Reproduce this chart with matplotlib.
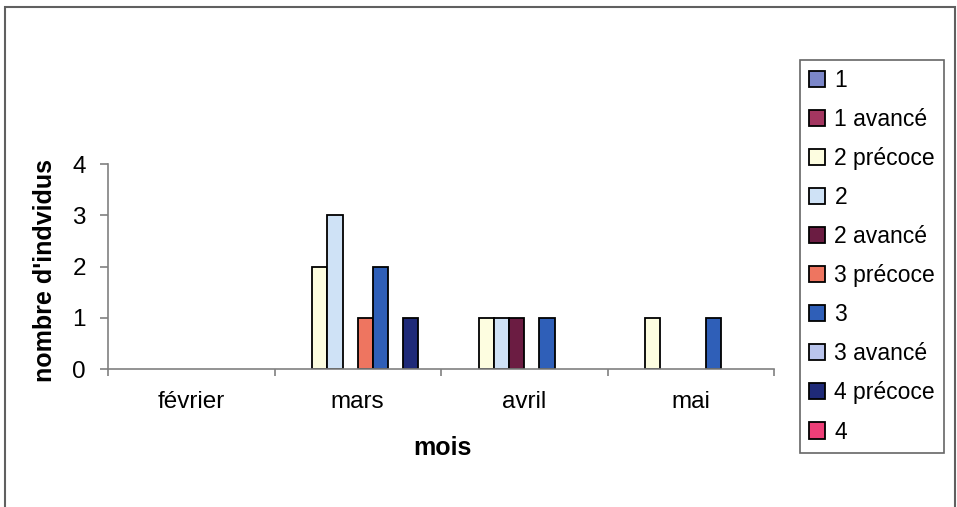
import numpy as np
import matplotlib.pyplot as plt
from matplotlib.patches import Rectangle

plt.rcParams['font.family'] = ['Liberation Sans', 'DejaVu Sans']

mois = ['février', 'mars', 'avril', 'mai']
stades = ['1', '1 avancé', '2 précoce', '2', '2 avancé', '3 précoce', '3', '3 avancé', '4 précoce', '4']
# one list per month, one value per stade
fevrier = [0, 0, 0, 0, 0, 0, 0, 0, 0, 0]
mars = [0, 0, 2, 3, 0, 1, 2, 0, 1, 0]
avril = [0, 0, 1, 1, 1, 0, 1, 0, 0, 0]
mai = [0, 0, 1, 0, 0, 0, 1, 0, 0, 0]
couleurs = ['#7b86c8', '#a33660', '#fdfde0', '#cfe2f6', '#6b1c42', '#ee7560', '#2f5fb8', '#b9c4ec', '#1f2a78', '#ee3f78']

data = np.array([fevrier, mars, avril, mai])

fig = plt.figure(figsize=(9.57, 5.07), dpi=100)
ax = fig.add_axes([108/957, 1-369/507, (774-108)/957, (369-164)/507])

n = len(stades)
w = 1/11   # gap = one bar width
x = np.arange(len(mois))
for i in range(n):
    h = data[:, i]
    lw = [1.3 if v > 0 else 0 for v in h]
    ax.bar(x - 0.5 + w/2 + i*w, h, width=w, color=couleurs[i],
           edgecolor='black', linewidth=lw, label=stades[i], align='edge')

ax.set_xlim(-0.5, len(mois)-0.5)
ax.set_ylim(0, 4)
ax.set_yticks([0, 1, 2, 3, 4])
ax.set_xticks(x)
ax.set_xticklabels(mois)
ax.set_xticks(np.arange(len(mois)+1) - 0.5, minor=True)
ax.tick_params(axis='x', which='major', length=0, pad=16, labelsize=17.5)
ax.tick_params(axis='x', which='minor', length=5, color='#808080', width=1.2)
ax.tick_params(axis='y', length=6, color='#808080', width=1.2, pad=10, labelsize=17.5)
for s in ['top', 'right']:
    ax.spines[s].set_visible(False)
for s in ['left', 'bottom']:
    ax.spines[s].set_color('#808080')
    ax.spines[s].set_linewidth(1.2)

fig.text(442/957, 1-448/507, 'mois', ha='center', va='center', fontsize=18, fontweight='bold')
fig.text(45/957, 1-270/507, "nombre d'indvidus", ha='center', va='center', rotation=90,
         fontsize=18, fontweight='bold')

leg = fig.legend(loc='upper left', bbox_to_anchor=(800/957, 1-60/507), borderaxespad=0,
                 fontsize=16.5, frameon=True, fancybox=False, edgecolor='#404040',
                 handlelength=0.7, handleheight=0.7, handletextpad=0.4, labelspacing=0.7,
                 borderpad=0.4)
leg.get_frame().set_linewidth(1.2)
for hnd in leg.legend_handles:
    hnd.set_linewidth(1.3)

fig.patches.append(Rectangle((5/957, -0.01), (955-5)/957, 1-7/507+0.01, transform=fig.transFigure,
                             fill=False, edgecolor='#606060', linewidth=1.5))

fig.savefig('out.png', dpi=100)
